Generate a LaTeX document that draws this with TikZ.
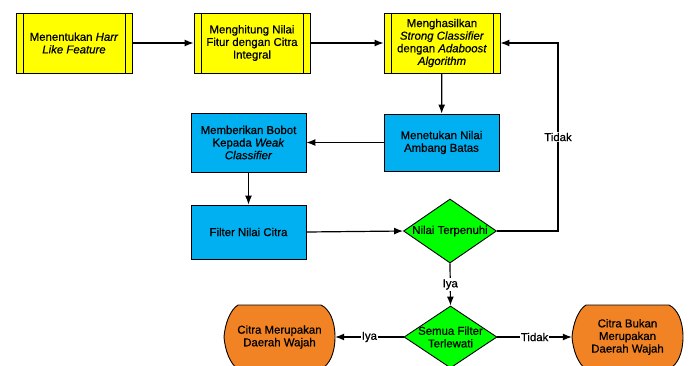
\documentclass[tikz,border=0pt]{standalone}
\usepackage{fontspec}
\setmainfont{Liberation Sans}[UprightFeatures={FakeBold=0.6},ItalicFeatures={FakeBold=0.6}]
\usetikzlibrary{arrows.meta,shapes.geometric}
\definecolor{procyellow}{RGB}{255,255,0}
\definecolor{stepblue}{RGB}{0,176,240}
\definecolor{decgreen}{RGB}{0,255,0}
\definecolor{termorange}{RGB}{242,131,36}
\tikzset{
  txt/.style={font=\fontsize{11.4}{12.6}\selectfont, align=center},
  predef/.style={txt, draw, line width=0.9pt, fill=procyellow, minimum width=116pt, minimum height=60pt, inner sep=0pt,
    path picture={
      \draw[line width=0.9pt] ([xshift=7pt]path picture bounding box.north west) -- ([xshift=7pt]path picture bounding box.south west);
      \draw[line width=0.9pt] ([xshift=-7pt]path picture bounding box.north east) -- ([xshift=-7pt]path picture bounding box.south east);}},
  procbox/.style={txt, draw, line width=0.9pt, fill=stepblue, minimum width=115pt, inner sep=0pt},
  decision/.style={diamond, draw, line width=0.9pt, fill=decgreen, inner sep=0pt, minimum width=93pt},
  termshape/.style={draw, line width=0.9pt, fill=termorange},
  conn/.style={line width=1.2pt, -{Latex[length=9pt,width=7pt]}},
  lbl/.style={txt, fill=white, inner sep=1pt}
}
\begin{document}
\begin{tikzpicture}[x=1pt,y=-1pt]
\useasboundingbox (0,0) rectangle (689,365);

% top row of predefined processes
\node[predef] (b1) at (74,43) {Menentukan \textit{Harr}\\\textit{Like Feature}};
\node[predef] (b2) at (252,43) {Menghitung Nilai\\Fitur dengan Citra\\Integral};
\node[predef] (b3) at (442,43) {Menghasilkan\\\textit{Strong Classifier}\\dengan \textit{Adaboost}\\\textit{Algorithm}};

% process steps
\node[procbox, minimum height=57pt] (b4) at (441.5,142.5) {Menetukan Nilai\\Ambang Batas};
\node[procbox, minimum height=59pt] (b5) at (248.5,142.5) {Memberikan Bobot\\Kepada \textit{Weak}\\\textit{Classifier}};
\node[procbox, minimum height=54pt] (b6) at (248.5,232) {Filter Nilai Citra};

% decisions
\node[decision, minimum height=64pt, label={[txt]center:Nilai Terpenuhi}] (d1) at (450,231) {};
\node[decision, minimum height=62pt, label={[txt]center:Semua Filter\\Terlewati}] (d2) at (450.5,337) {};

% terminal outlines (display shape: bulging left side with a soft point, rounded right side)
\foreach \cx in {279.5,627.5} {
  \draw[termshape, shift={(\cx,337)}] (-41.5,-32) -- (41.5,-32)
    .. controls (50,-28) and (55.5,-16) .. (55.5,0)
    .. controls (55.5,16) and (50,28) .. (41.5,32) -- (-41.5,32)
    .. controls (-49.5,27) and (-54.5,13) .. (-55.5,0)
    .. controls (-54.5,-13) and (-49.5,-27) .. cycle;
}
\node[txt, minimum width=111pt, minimum height=64pt, inner sep=0pt] (t1) at (279.5,337) {Citra Merupakan\\Daerah Wajah};
\node[txt, minimum width=111pt, minimum height=64pt, inner sep=0pt] (t2) at (627.5,337) {Citra Bukan\\Merupakan\\Daerah Wajah};

% connectors
\coordinate (fb) at (558,231);
\draw[conn] (b1) -- (b2);
\draw[conn] (b2) -- (b3);
\draw[conn] (b3) -- (b4);
\draw[conn] (b4) -- (b5);
\draw[conn] (b5) -- (b6);
\draw[conn] (b6.east) -- (d1.west);
\draw[conn] (d1.east) -- (fb) |- node[lbl, pos=0.25] {Tidak} (b3.east);
\draw[conn] (d1.south) -- node[lbl] {Iya} (d2.north);
\draw[conn] (d2.west) -- node[lbl] {Iya} (t1.east);
\draw[conn] (d2.east) -- node[lbl] {Tidak} (t2.west);
\end{tikzpicture}
\end{document}
